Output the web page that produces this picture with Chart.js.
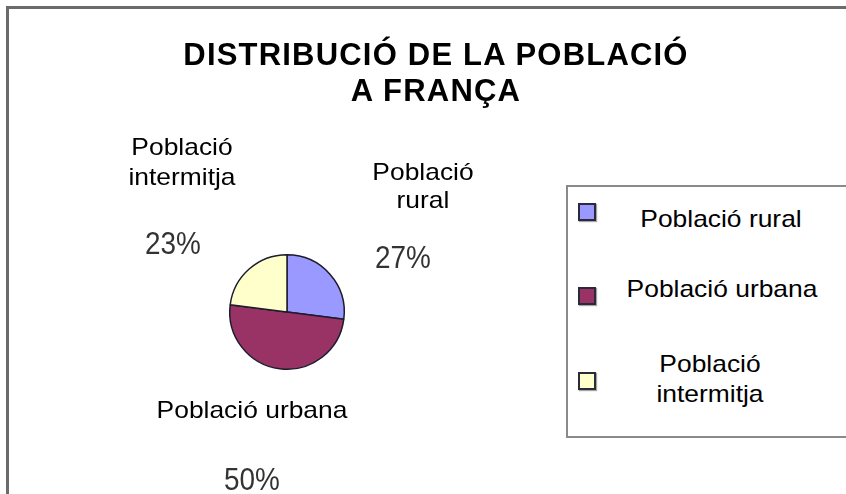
<!DOCTYPE html>
<html>
<head>
<meta charset="utf-8">
<script src="https://cdn.jsdelivr.net/npm/chart.js@4.4.1/dist/chart.umd.min.js"></script>
<style>
  html, body { margin: 0; padding: 0; background: #fff; }
  #wrap { position: relative; width: 846px; height: 494px; overflow: hidden; background: #fff; }
  #frame { position: absolute; left: 6px; top: 6px; width: 900px; height: 600px; border: 3px solid #6b6b6b; box-sizing: border-box; }
  canvas { position: absolute; left: 0; top: 0; }
  .t { position: absolute; font-family: "Liberation Sans", Arial, sans-serif; color: #000; text-align: center; white-space: normal; }
  .title { font-weight: bold; font-size: 31px; line-height: 36px; letter-spacing: 1.2px; width: 600px; }
  .name { font-size: 24px; line-height: 28px; transform: scaleX(1.1); transform-origin: center top; }
  .pct { font-size: 31px; line-height: 31px; color: #333; transform: scaleX(0.9); transform-origin: center top; width: 100px; white-space: nowrap; }
  #legend { position: absolute; left: 566px; top: 185px; width: 320px; height: 253px; border: 2px solid #8a8a8a; box-sizing: border-box; background: #fff; }
  .sw { position: absolute; width: 18px; height: 18px; box-sizing: border-box; border: 2px solid #2a2a3a; box-shadow: 1px 1px 1px rgba(0,0,0,0.35); }
</style>
</head>
<body>
<div id="wrap">
  <div id="frame"></div>
  <canvas id="c" width="846" height="494"></canvas>
  <div id="legend"></div>
  <div id="overlay"></div>
</div>
<script>
// ---- data ----
const titleLines = ['DISTRIBUCIÓ DE LA POBLACIÓ', 'A FRANÇA'];
const categories = ['Població rural', 'Població urbana', 'Població intermitja'];
const values = [27, 50, 23];
const colors = ['#9999FF', '#993366', '#FFFFCC'];

// ---- layout constants (relative to pie centre) ----
const nameLayout = [
  { dx: 136, top: -154.3, w: 120, lh: 28 },
  { dx: -35, top: 83.7, w: 220, lh: 28 },
  { dx: -105, top: -180.3, w: 120, lh: 30 }
];
const pctLayout = [
  { dx: 116, top: -70.5 },
  { dx: -35, top: 152 },
  { dx: -114, top: -84.5 }
];
const legendLayout = [
  { cx: 721, top: 203.7, sq: 203, w: 200 },
  { cx: 722, top: 273.7, sq: 287, w: 200 },
  { cx: 710, top: 348.7, sq: 372, w: 160 }
];

const wrap = document.getElementById('wrap');
const overlay = document.getElementById('overlay');

// title
titleLines.forEach((line, i) => {
  const d = document.createElement('div');
  d.className = 't title';
  d.textContent = line;
  d.style.left = (436 - 300) + 'px';
  d.style.top = (37.2 + i * 36) + 'px';
  overlay.appendChild(d);
});

// legend
categories.forEach((cat, i) => {
  const L = legendLayout[i];
  const sw = document.createElement('div');
  sw.className = 'sw';
  sw.style.left = '578px';
  sw.style.top = L.sq + 'px';
  sw.style.background = colors[i];
  wrap.appendChild(sw);
  const t = document.createElement('div');
  t.className = 't name';
  t.style.lineHeight = '30px';
  t.style.width = L.w + 'px';
  t.style.left = (L.cx - L.w / 2) + 'px';
  t.style.top = L.top + 'px';
  t.textContent = cat;
  wrap.appendChild(t);
});

// data labels
const nameEls = [], pctEls = [];
categories.forEach((cat, i) => {
  const n = document.createElement('div');
  n.className = 't name';
  n.textContent = cat;
  n.style.width = nameLayout[i].w + 'px';
  n.style.lineHeight = nameLayout[i].lh + 'px';
  overlay.appendChild(n);
  nameEls.push(n);
  const p = document.createElement('div');
  p.className = 't pct';
  overlay.appendChild(p);
  pctEls.push(p);
});

const labelPlugin = {
  id: 'labels',
  afterDraw(chart) {
    const meta = chart.getDatasetMeta(0);
    const total = values.reduce((a, b) => a + b, 0);
    meta.data.forEach((arc, i) => {
      const cx = arc.x, cy = arc.y;
      const n = nameEls[i], NL = nameLayout[i];
      n.style.left = (cx + NL.dx - NL.w / 2) + 'px';
      n.style.top = (cy + NL.top) + 'px';
      const p = pctEls[i], PL = pctLayout[i];
      p.textContent = Math.round(values[i] / total * 100) + '%';
      p.style.left = (cx + PL.dx - 50) + 'px';
      p.style.top = (cy + PL.top) + 'px';
    });
  }
};

new Chart(document.getElementById('c'), {
  type: 'pie',
  data: {
    labels: categories,
    datasets: [{
      data: values,
      backgroundColor: colors,
      borderColor: '#1c1c2c',
      borderWidth: 1.5
    }]
  },
  options: {
    responsive: false,
    animation: false,
    layout: { padding: { left: 229, right: 501, top: 254, bottom: 124 } },
    plugins: {
      legend: { display: false },
      tooltip: { enabled: false },
      title: { display: false }
    }
  },
  plugins: [labelPlugin]
});
</script>
</body>
</html>
